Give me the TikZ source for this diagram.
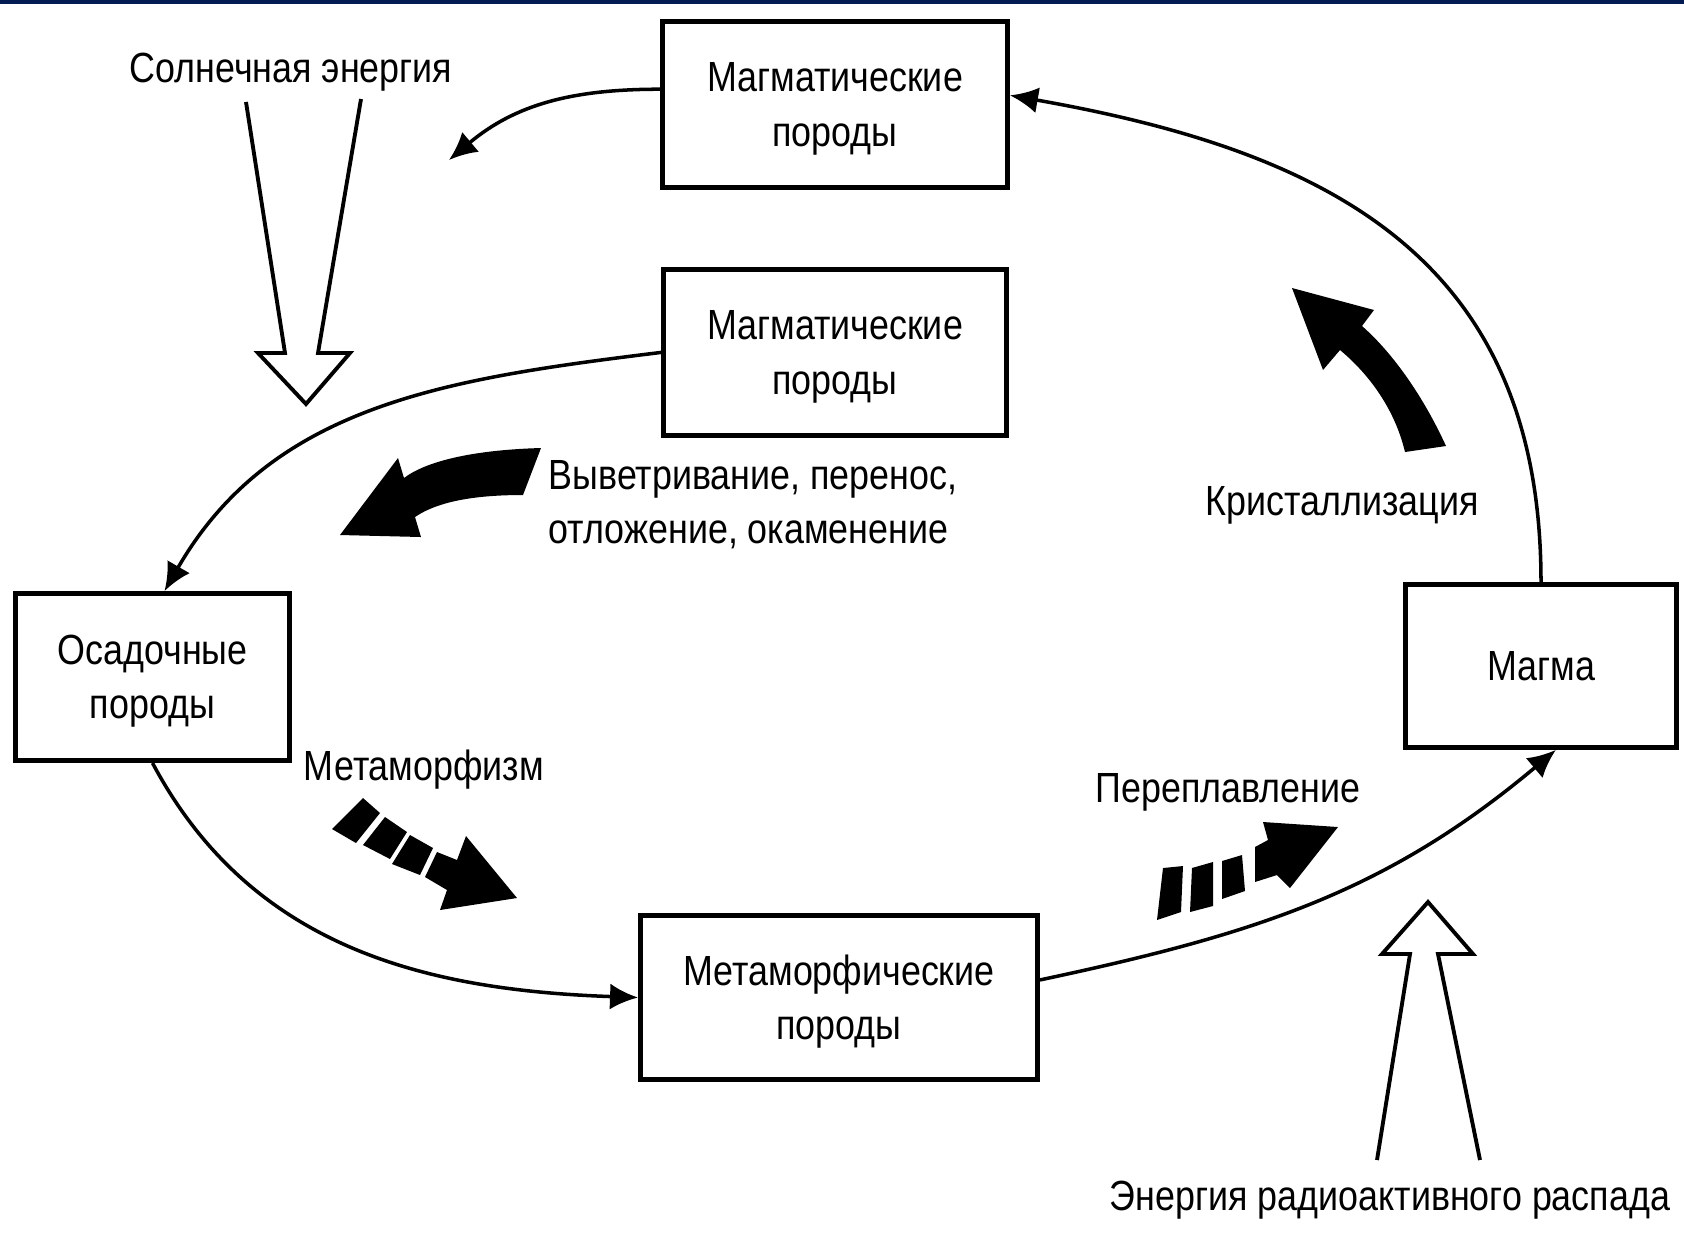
\documentclass[tikz,border=0pt]{standalone}
\usepackage{fontspec}
\setmainfont{Liberation Sans}[FakeStretch=0.85]
\usepackage{tikz}
\usetikzlibrary{arrows.meta}
\usetikzlibrary{positioning}
\definecolor{bandblue}{RGB}{4,26,82}

\begin{document}
\begin{tikzpicture}[x=0.1mm, y=0.1mm, font=\fontsize{12}{15.4}\selectfont]

\tikzstyle{rock}=[draw, line width=1.4pt, align=center, inner sep=0pt, text depth=0pt]
\tikzstyle{line}=[draw, line width=1pt, -{Latex[length=2.8mm,width=2.6mm]}]
\tikzstyle{process}=[inner sep=0pt]
\tikzstyle{hollow}=[draw, line width=1.1pt, line join=miter]

\useasboundingbox (0,0) rectangle (1684,-1239);
\fill[white] (0,0) rectangle (1684,-1239);
\fill[bandblue] (0,0) rectangle (1684,-4);

% rocks
\node[rock, minimum width=34.5mm, minimum height=16.6mm] (igneous_top) at (835,-104.5) {Магматические\\породы};
\node[rock, minimum width=34.3mm, minimum height=16.6mm, below=7.7mm of igneous_top] (igneous) {Магматические\\породы};
\node[rock, minimum width=27.4mm, minimum height=16.7mm] (sedimentary) at (152.5,-677) {Осадочные\\породы};
\node[rock, minimum width=39.7mm, minimum height=16.4mm] (metamorphic) at (839,-997.5) {Метаморфические\\породы};
\node[rock, minimum width=27.1mm, minimum height=16.3mm] (magma) at (1541,-666) {Магма};

% processes
\node[process, anchor=base] (solar_text) at (291,-82) {Солнечная энергия};
\node[process, align=left, anchor=west] (weathering_text) at (548,-505) {Выветривание, перенос,\\отложение, окаменение};
\node[process, anchor=base] (crystal_text) at (1342,-515) {Кристаллизация};
\node[process, anchor=base] (metamorphism_text) at (424,-780) {Метаморфизм};
\node[process, anchor=base] (melting_text) at (1228,-802) {Переплавление};
\node[process, anchor=base] (decay_text) at (1390,-1210) {Энергия радиоактивного распада};

% cycle
\coordinate (sun_end) at (449,-160);
\path[line] (igneous_top.175) to[out=180, in=40] (sun_end);
\path[line] (igneous.west) to[out=187, in=60] ([xshift=1.2mm]sedimentary.north);
\path[line] (sedimentary.south) to[out=-62, in=178] (metamorphic.west);
\path[line] (metamorphic.5) to[out=12, in=-140] (magma.-80);
\path[line] (magma.north) to[out=90, in=-10, looseness=1.15] (igneous_top.3);

% energy inputs
\draw[hollow] (246,-102) -- (285,-353) -- (258,-353) -- (306,-404) -- (350,-353) -- (318,-353) -- (361,-99);
\draw[hollow] (1377,-1160) -- (1410,-954) -- (1382,-954) -- (1428,-902) -- (1473,-954) -- (1438,-954) -- (1480,-1160);

% weathering
\fill (541,-448) .. controls (470,-450) and (425,-462) .. (404,-478) -- (398,-458) -- (340,-535) -- (421,-537) -- (415,-517) .. controls (440,-500) and (480,-495) .. (523,-495) -- cycle;

% crystallization
\fill (1405,-452) .. controls (1395,-410) and (1370,-375) .. (1340,-350) -- (1323,-370) -- (1292,-288) -- (1374,-310) -- (1362,-326) .. controls (1395,-355) and (1425,-400) .. (1446,-446) -- cycle;

% metamorphism
\fill (363,-798) -- (380,-813) -- (356,-843) -- (332,-829) -- cycle;
\fill (385,-817) -- (407,-832) -- (390,-859) -- (363,-845) -- cycle;
\fill (410,-835) -- (433,-848) -- (420,-875) -- (392,-864) -- cycle;
\fill (437,-852) -- (457,-860) -- (466,-836) -- (517,-898) -- (440,-910) -- (447,-890) -- (425,-877) -- cycle;

% melting
\fill (1163,-868) -- (1183,-866) -- (1181,-912) -- (1157,-920) -- cycle;
\fill (1192,-868) -- (1213,-862) -- (1213,-906) -- (1190,-912) -- cycle;
\fill (1222,-861) -- (1242,-855) -- (1245,-891) -- (1222,-899) -- cycle;
\fill (1255,-847) -- (1268,-840) -- (1263,-822) -- (1338,-827) -- (1290,-888) -- (1277,-875) -- (1255,-882) -- cycle;

\end{tikzpicture}
\end{document}
